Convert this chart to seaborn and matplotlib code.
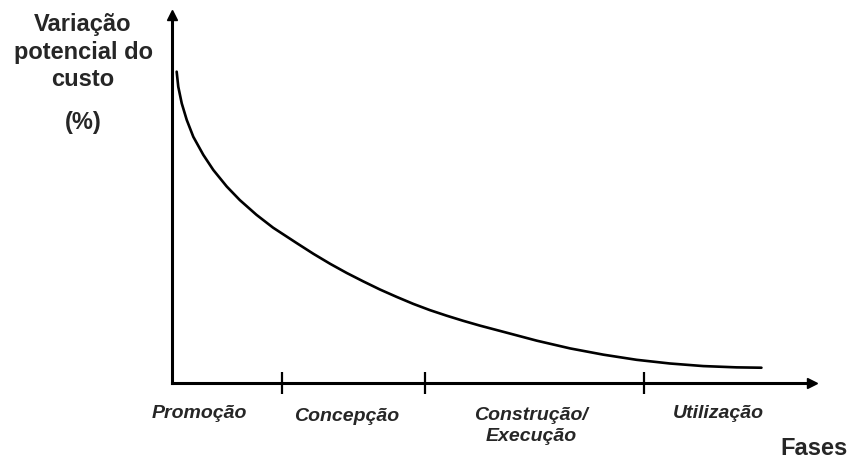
import matplotlib
matplotlib.use("Agg")
import matplotlib.pyplot as plt
import seaborn as sns
import pandas as pd

# curva de variação potencial do custo (escala 0-100)
fase_x = [0.73, 0.98, 1.52, 2.30, 3.33, 4.89, 6.45, 8.55, 10.6, 13.2, 15.8, 19.5,
          22.1, 24.7, 27.3, 29.9, 32.5, 35.1, 37.7, 40.3, 42.9, 45.5, 48.1, 51.8,
          57.0, 62.2, 67.4, 72.6, 77.8, 83.0, 88.2, 92.1]
custo_y = [84.6, 80.5, 76.0, 71.5, 66.9, 62.0, 57.9, 53.4, 49.7, 45.7, 42.2, 38.0,
           35.1, 32.4, 29.9, 27.6, 25.4, 23.4, 21.5, 19.8, 18.3, 16.9, 15.6, 13.9,
           11.5, 9.4, 7.7, 6.3, 5.3, 4.6, 4.25, 4.15]

fases = ['Promoção', 'Concepção', 'Construção/\nExecução', 'Utilização']
limites_fases = [17.2, 39.5, 73.75]

df = pd.DataFrame({'fase': fase_x, 'custo': custo_y})

sns.set_style('white')
plt.rcParams['font.family'] = ['Liberation Sans', 'DejaVu Sans']

fig = plt.figure(figsize=(8.5, 4.59), dpi=100)
ax = fig.add_axes([172 / 850, 76 / 459, 640 / 850, 368 / 459])

sns.lineplot(data=df, x='fase', y='custo', ax=ax, color='black', linewidth=1.9)
ax.lines[0].set_solid_joinstyle('round')

ax.set_xlim(0, 100)
ax.set_ylim(0, 100)
for s in ['top', 'right']:
    ax.spines[s].set_visible(False)
for s in ['left', 'bottom']:
    ax.spines[s].set_linewidth(2.2)
    ax.spines[s].set_color('black')

# setas nos eixos
ax.plot(1, 0, '>k', transform=ax.transAxes, clip_on=False, markersize=7)
ax.plot(0, 1, '^k', transform=ax.transAxes, clip_on=False, markersize=7)

ax.set_xticks(limites_fases)
ax.set_xticklabels([])
ax.set_yticks([])
ax.tick_params(axis='x', direction='inout', length=16, width=1.6, color='black', bottom=True)
ax.set_xlabel('')
ax.set_ylabel('')

# nomes das fases
pos_fases = [(4.2, -8.2), (27.3, -9.2), (56.1, -11.6), (85.3, -8.2)]
for nome, (px, py) in zip(fases, pos_fases):
    ax.text(px, py, nome, ha='center', va='center', fontsize=14, fontweight='bold',
            fontstyle='italic', linespacing=1.3, clip_on=False)

ax.text(100.3, -17.7, 'Fases', ha='center', va='center', fontsize=17, fontweight='bold',
        clip_on=False)

fig.text(83 / 850, 1 - 52 / 459, 'Variação\npotencial do\ncusto', ha='center', va='center',
         fontsize=17, fontweight='bold', linespacing=1.27)
fig.text(83 / 850, 1 - 123 / 459, '(%)', ha='center', va='center', fontsize=17,
         fontweight='bold')

fig.savefig('out.png', dpi=100)
